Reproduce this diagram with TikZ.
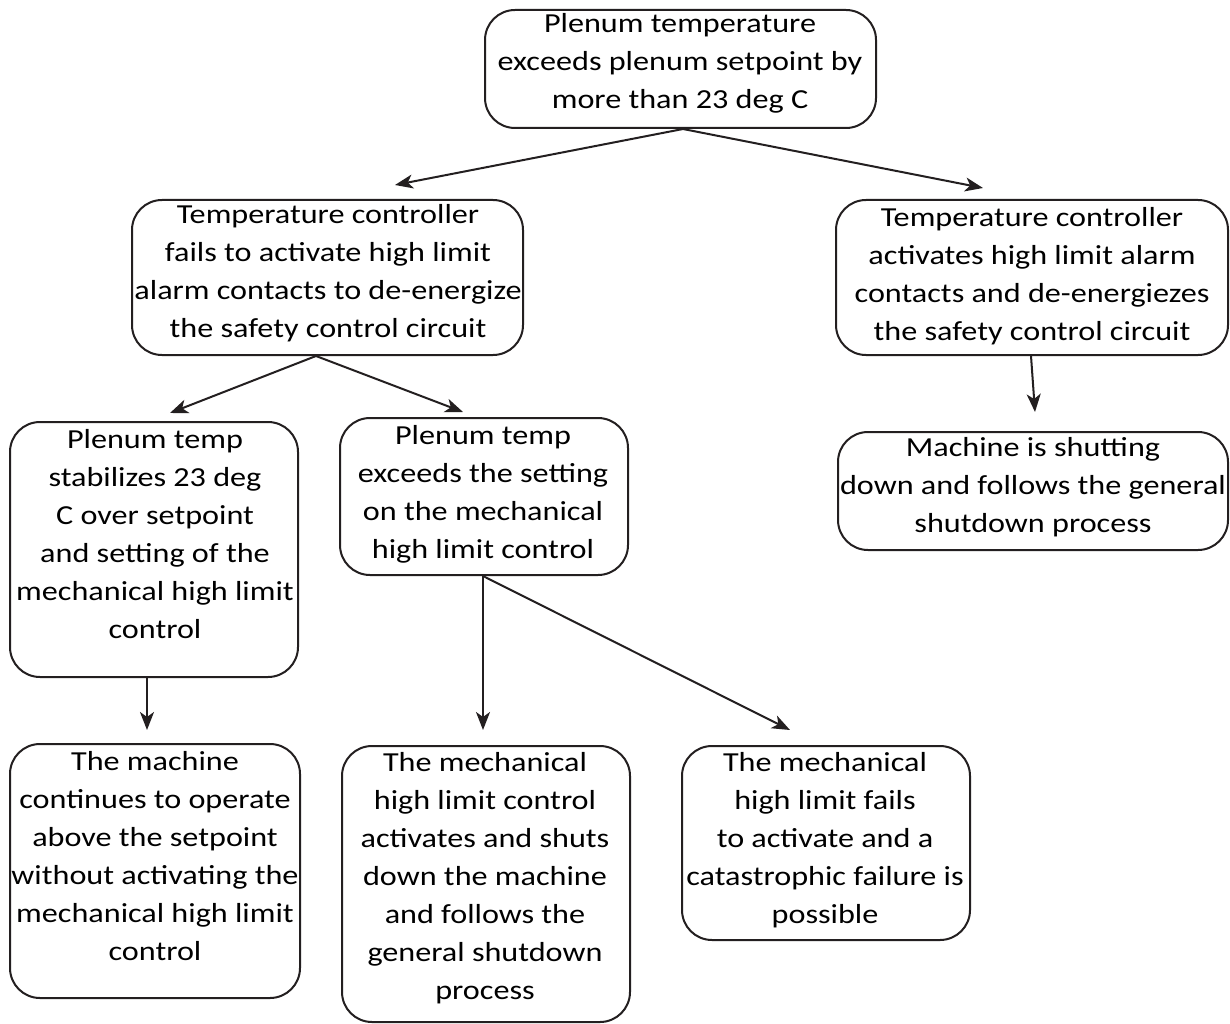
\documentclass[tikz,border=0pt]{standalone}
\usepackage{fontspec}
\setmainfont{Carlito}[FakeStretch=1.17]
\usetikzlibrary{arrows.meta}
\definecolor{ink}{HTML}{231F20}
\tikzset{
  box/.style={draw=ink, line width=2pt, rounded corners=30pt, inner sep=0pt},
  txt/.style={align=center, inner sep=0pt, text=black, font=\fontsize{27.5}{38}\selectfont},
  conn/.style={draw=ink, line width=2pt, -{Stealth[length=18pt,width=14pt,inset=5pt]}}
}
\newcommand{\rbox}[5]{\node[box, minimum width=#4-#2, minimum height=#5-#3] (#1) at ({(#2+#4)/2},{(#3+#5)/2}) {};}
\begin{document}
\begin{tikzpicture}[x=1pt,y=-1pt]
\useasboundingbox (0,0) rectangle (1230,1024);
\rbox{b1}{485}{10}{876}{128}
\rbox{b2}{132}{200}{523}{355}
\rbox{b3}{836}{200}{1228}{355}
\rbox{b4}{10}{422}{298}{677}
\rbox{b5}{340}{418}{628}{575}
\rbox{b6}{838}{432}{1228}{550}
\rbox{b7}{10}{744}{300}{998}
\rbox{b8}{342}{746}{630}{1022}
\rbox{b9}{682}{746}{970}{940}
\node[txt] (t1) at (680,63) {Plenum temperature\\exceeds plenum setpoint by\\more than 23 deg C};
\node[txt] (t2) at (328,273) {Temperature controller\\fails to activate high limit\\alarm contacts to de-energize\\the safety control circuit};
\node[txt] (t3) at (1032,276) {Temperature controller\\activates high limit alarm\\contacts and de-energiezes\\the safety control circuit};
\node[txt] (t4) at (155,534) {Plenum temp\\stabilizes 23 deg\\C over setpoint\\and setting of the\\mechanical high limit\\control};
\node[txt] (t5) at (483,494) {Plenum temp\\exceeds the setting\\on the mechanical\\high limit control};
\node[txt] (t6) at (1033,487) {Machine is shutting\\down and follows the general\\shutdown process};
\node[txt] (t7) at (155,856) {The machine\\continues to operate\\above the setpoint\\without activating the\\mechanical high limit\\control};
\node[txt] (t8) at (485,878) {The mechanical\\high limit control\\activates and shuts\\down the machine\\and follows the\\general shutdown\\process};
\node[txt] (t9) at (825,840) {The mechanical\\high limit fails\\to activate and a\\catastrophic failure is\\possible};
\coordinate (s1) at ([xshift=2.5pt]b1.south);
\coordinate (s2) at ([xshift=-11.5pt]b2.south);
\coordinate (s3) at ([xshift=-1pt]b3.south);
\coordinate (s4) at ([xshift=-7pt]b4.south);
\coordinate (s5) at ([xshift=-1pt]b5.south);
\coordinate (e1) at (395,185);
\coordinate (e2) at (983,188);
\coordinate (e3) at (170,413);
\coordinate (e4) at (463,412);
\coordinate (e5) at (1035,412);
\coordinate (e6) at (147,730);
\coordinate (e7) at (483,730);
\coordinate (e8) at (790,730);
\draw[conn] (s1) -- (e1);
\draw[conn] (s1) -- (e2);
\draw[conn] (s2) -- (e3);
\draw[conn] (s2) -- (e4);
\draw[conn] (s3) -- (e5);
\draw[conn] (s4) -- (e6);
\draw[conn] (s5) -- (e7);
\draw[conn] (s5) -- (e8);
\end{tikzpicture}
\end{document}
